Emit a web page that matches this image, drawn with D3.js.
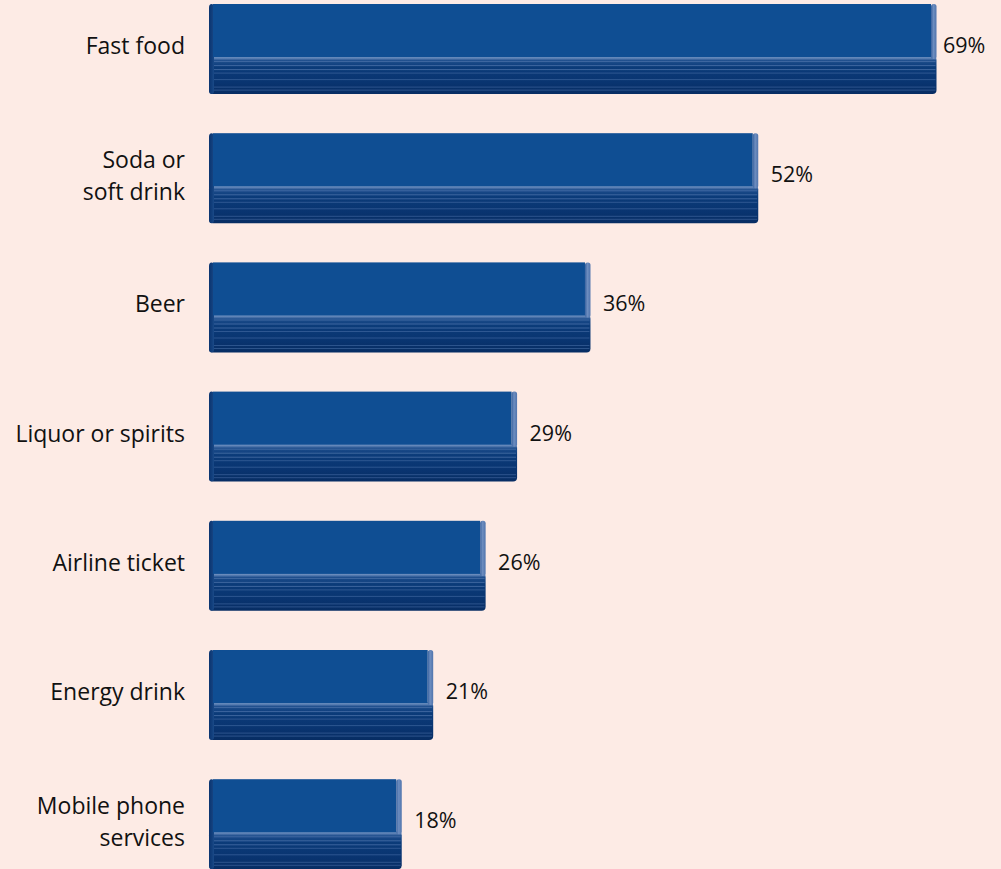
<!DOCTYPE html>
<html>
<head>
<meta charset="utf-8">
<script src="https://cdn.jsdelivr.net/npm/d3@7"></script>
<style>
  html, body { margin: 0; padding: 0; background: #fdebe5; }
  svg { display: block; }
  text { font-family: "Open Sans", "Noto Sans", sans-serif; fill: #111; }
</style>
</head>
<body>
<svg id="chart" width="1001" height="869"></svg>
<script>
// Share of respondents, by product category
const categories = [
  "Fast food",
  "Soda or\nsoft drink",
  "Beer",
  "Liquor or spirits",
  "Airline ticket",
  "Energy drink",
  "Mobile phone\nservices"
];
const values = [69, 52, 36, 29, 26, 21, 18];
const valueLabels = ["69%", "52%", "36%", "29%", "26%", "21%", "18%"];

const W = 1001, H = 869;
const svg = d3.select("#chart");

const x = d3.scaleLinear().domain([0, 69]).range([207.5, 931]);
const y = d3.scaleBand().domain(categories).range([4, 869.2])
  .paddingInner(0.3034).paddingOuter(0);

const bh = y.bandwidth();          // full bar depth incl. lower ledge
const faceH = bh * 0.59;           // front face height
const ledgeTop = faceH - 1;

const defs = svg.append("defs");

// lower ledge: dark, with a pale rim along its top edge
const lg = defs.append("linearGradient").attr("id", "ledge")
  .attr("x1", 0).attr("y1", 0).attr("x2", 0).attr("y2", 1);
[[0, "#8aa6cf"], [0.06, "#5a7fb3"], [0.12, "#1d4d8c"], [0.3, "#0b3b79"],
 [0.7, "#093470"], [1, "#072d63"]].forEach(([o, c]) =>
  lg.append("stop").attr("offset", o).attr("stop-color", c));

// right-hand side of the block
const sg = defs.append("linearGradient").attr("id", "side")
  .attr("x1", 0).attr("y1", 0).attr("x2", 1).attr("y2", 0);
[[0, "#3a63a0"], [0.45, "#6d8dbf"], [1, "#4f74ad"]].forEach(([o, c]) =>
  sg.append("stop").attr("offset", o).attr("stop-color", c));

// left rounded edge
const eg = defs.append("linearGradient").attr("id", "edge")
  .attr("x1", 0).attr("y1", 0).attr("x2", 1).attr("y2", 0);
[[0, "#0a3470"], [0.6, "#123f7c"], [1, "#1a4a88"]].forEach(([o, c]) =>
  eg.append("stop").attr("offset", o).attr("stop-color", c));

// thin highlight lines running along the ledge
const stripeOffsets = [5.5, 9.5, 13.5, 17, 23.5, 31, 34];

const rows = svg.append("g").selectAll("g.bar")
  .data(categories.map((c, i) => ({ c, v: values[i], label: valueLabels[i] })))
  .join("g")
  .attr("class", "bar")
  .attr("transform", d => `translate(0,${y(d.c)})`);

rows.each(function(d) {
  const g = d3.select(this);
  const x0 = x(0) + 1.5;
  const xe = x(d.v);

  // lower ledge
  g.append("rect")
    .attr("x", x0).attr("y", ledgeTop)
    .attr("width", xe + 5.5 - x0).attr("height", bh - ledgeTop)
    .attr("rx", 4).attr("fill", "url(#ledge)");

  g.selectAll("line.stripe").data(stripeOffsets).join("line")
    .attr("class", "stripe")
    .attr("x1", x0 + 2).attr("x2", xe + 4.5)
    .attr("y1", o => ledgeTop + o).attr("y2", o => ledgeTop + o)
    .attr("stroke", "#4d73aa").attr("stroke-width", 0.9)
    .attr("opacity", (o, i) => i < 3 ? 0.85 : 0.6);

  // left rounded edge
  g.append("rect")
    .attr("x", x0).attr("y", 0)
    .attr("width", 5).attr("height", bh)
    .attr("rx", 3.5).attr("fill", "url(#edge)");

  // front face
  g.append("rect")
    .attr("x", x0 + 4).attr("y", 0)
    .attr("width", xe - x0 - 4).attr("height", faceH)
    .attr("fill", "#0f4e93");

  // right side
  g.append("rect")
    .attr("x", xe).attr("y", 0)
    .attr("width", 5.5).attr("height", faceH + 2)
    .attr("rx", 2.5).attr("fill", "url(#side)");

  // value label
  g.append("text")
    .attr("x", Math.min(xe + 18, W - 58))
    .attr("y", 49)
    .attr("font-size", 21.5)
    .text(d.label);

  // category label, one text element per line
  const lines = d.c.split("\n");
  g.selectAll("text.cat").data(lines).join("text")
    .attr("class", "cat")
    .attr("text-anchor", "end")
    .attr("font-size", 23)
    .attr("x", 185)
    .attr("y", (ln, i) => 50 + (i - (lines.length - 1) / 2) * 31.5 + (lines.length > 1 ? 1 : 0))
    .text(ln => ln);
});
</script>
</body>
</html>
